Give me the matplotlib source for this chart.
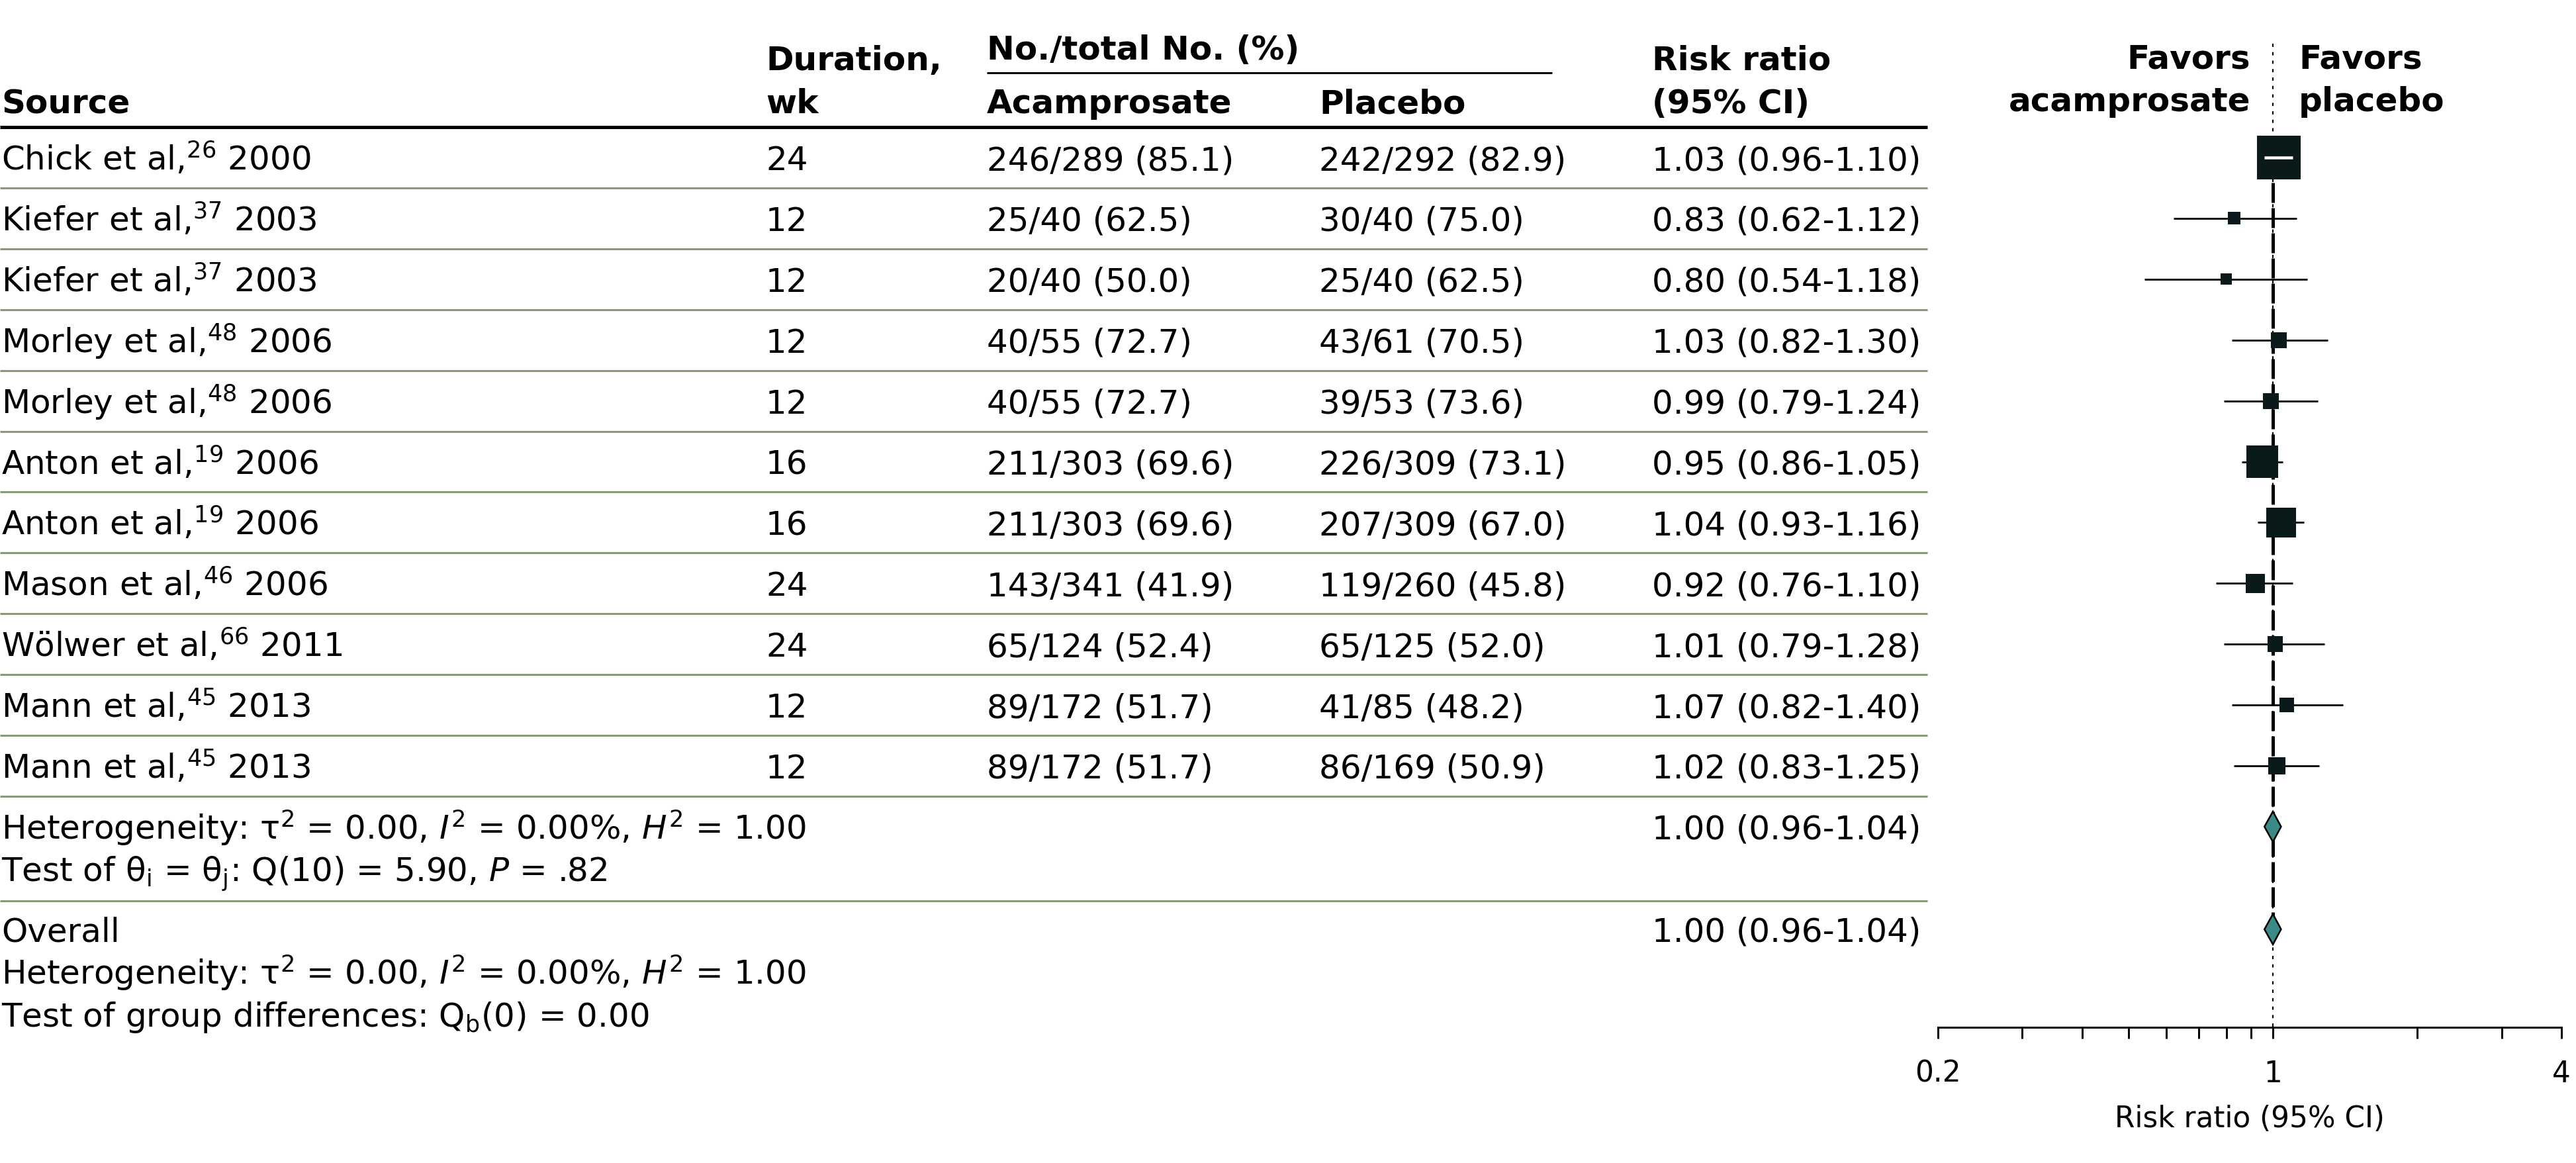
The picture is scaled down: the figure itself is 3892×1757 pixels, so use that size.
import numpy as np
import matplotlib
matplotlib.use("Agg")
import matplotlib.pyplot as plt
from matplotlib.ticker import FixedLocator, FixedFormatter, NullFormatter

# ---------------- data ----------------
authors = ["Chick", "Kiefer", "Kiefer", "Morley", "Morley", "Anton", "Anton",
           "Mason", "Wölwer", "Mann", "Mann"]
refs = [26, 37, 37, 48, 48, 19, 19, 46, 66, 45, 45]
years = [2000, 2003, 2003, 2006, 2006, 2006, 2006, 2006, 2011, 2013, 2013]
duration_wk = [24, 12, 12, 12, 12, 16, 16, 24, 24, 12, 12]
acamp_events = [246, 25, 20, 40, 40, 211, 211, 143, 65, 89, 89]
acamp_total = [289, 40, 40, 55, 55, 303, 303, 341, 124, 172, 172]
placebo_events = [242, 30, 25, 43, 39, 226, 207, 119, 65, 41, 86]
placebo_total = [292, 40, 40, 61, 53, 309, 309, 260, 125, 85, 169]
rr = [1.03, 0.83, 0.80, 1.03, 0.99, 0.95, 1.04, 0.92, 1.01, 1.07, 1.02]
rr_lo = [0.96, 0.62, 0.54, 0.82, 0.79, 0.86, 0.93, 0.76, 0.79, 0.82, 0.83]
rr_hi = [1.10, 1.12, 1.18, 1.30, 1.24, 1.05, 1.16, 1.10, 1.28, 1.40, 1.25]
weights = [33.4, 2.8, 2.2, 4.4, 4.4, 17.7, 15.5, 6.4, 4.2, 3.7, 5.2]  # % (from box areas)

subgroup_rr, subgroup_lo, subgroup_hi = 1.00, 0.96, 1.04
overall_rr, overall_lo, overall_hi = 1.00, 0.96, 1.04

het_text = r"Heterogeneity: τ$^{2}$ = 0.00, $I^{2}$ = 0.00%, $H^{2}$ = 1.00"
test_text = r"Test of θ$_{\mathrm{i}}$ = θ$_{\mathrm{j}}$: Q(10) = 5.90, $P$ = .82"
group_text = r"Test of group differences: Q$_{\mathrm{b}}$(0) = 0.00"

xticks_major = [0.2, 1, 4]
xtick_labels = ["0.2", "1", "4"]
xticks_minor = [0.3, 0.4, 0.5, 0.6, 0.7, 0.8, 0.9, 2, 3]

# ---------------- style / layout ----------------
plt.rcParams["font.family"] = ["DejaVu Sans"]
plt.rcParams["mathtext.fontset"] = "dejavusans"

W, H, DPI = 3892, 1758, 100
PX = 72.0 / DPI  # points per pixel
FS = 36
FS_AX = 31.5
BOX_C = "#0a1a1a"
DIA_C = "#3a8a88"
SEP_C = "#8a9a78"

x_src, x_dur, x_acam, x_plac, x_rr = 2, 1157, 1491, 1993, 2496
table_right = 2912
y_first, pitch, base_off = 239, 91.9, 18
fx0, fx1, fy_axis = 2928, 3870, 1553

n = len(authors)
row_y = y_first + pitch * np.arange(n)
sub_y = y_first + pitch * n          # subgroup diamond centre
line_gap = 64
sep_het = sub_y + 112
ov_y = sub_y + 155

fig = plt.figure(figsize=(W / DPI, H / DPI), dpi=DPI)
tab = fig.add_axes([0, 0, 1, 1])
tab.set_xlim(0, W)
tab.set_ylim(H, 0)
tab.axis("off")

# header
hkw = dict(fontsize=FS, fontweight="bold", va="baseline")
tab.text(x_src, 171, "Source", **hkw)
tab.text(x_dur, 106, "Duration,", **hkw)
tab.text(x_dur, 171, "wk", **hkw)
tab.text(x_acam, 90, "No./total No. (%)", **hkw)
tab.plot([x_acam, 2345], [111, 111], color="black", lw=3 * PX * 1.0 / PX * PX * 1.0, solid_capstyle="butt")
tab.text(x_acam, 171, "Acamprosate", **hkw)
tab.text(x_plac, 171, "Placebo", **hkw)
tab.text(x_rr, 106, "Risk ratio", **hkw)
tab.text(x_rr, 171, "(95% CI)", **hkw)
tab.text(3400, 103, "Favors", ha="right", **hkw)
tab.text(3400, 168, "acamprosate", ha="right", **hkw)
tab.text(3473, 103, "Favors", ha="left", **hkw)
tab.text(3473, 168, "placebo", ha="left", **hkw)

tab.plot([0, table_right], [193, 193], color="black", lw=5 * PX, solid_capstyle="butt")

# rows
rkw = dict(fontsize=FS, va="baseline")
for i in range(n):
    yb = row_y[i] + base_off
    tab.text(x_src, yb, f"{authors[i]} et al,$^{{{refs[i]}}}$ {years[i]}", **rkw)
    tab.text(x_dur, yb, f"{duration_wk[i]}", **rkw)
    tab.text(x_acam, yb, f"{acamp_events[i]}/{acamp_total[i]} "
             f"({100 * acamp_events[i] / acamp_total[i]:.1f})", **rkw)
    tab.text(x_plac, yb, f"{placebo_events[i]}/{placebo_total[i]} "
             f"({100 * placebo_events[i] / placebo_total[i]:.1f})", **rkw)
    tab.text(x_rr, yb, f"{rr[i]:.2f} ({rr_lo[i]:.2f}-{rr_hi[i]:.2f})", **rkw)
    tab.plot([0, table_right], [row_y[i] + pitch / 2] * 2, color=SEP_C,
             lw=3 * PX, solid_capstyle="butt")

# subgroup / overall text
tab.text(x_src, sub_y + base_off, het_text, **rkw)
tab.text(x_src, sub_y + base_off + line_gap, test_text, **rkw)
tab.text(x_rr, sub_y + base_off,
         f"{subgroup_rr:.2f} ({subgroup_lo:.2f}-{subgroup_hi:.2f})", **rkw)
tab.plot([0, table_right], [sep_het] * 2, color=SEP_C, lw=3 * PX, solid_capstyle="butt")
tab.text(x_src, ov_y + base_off, "Overall", **rkw)
tab.text(x_src, ov_y + base_off + line_gap, het_text, **rkw)
tab.text(x_src, ov_y + base_off + 2 * line_gap, group_text, **rkw)
tab.text(x_rr, ov_y + base_off,
         f"{overall_rr:.2f} ({overall_lo:.2f}-{overall_hi:.2f})", **rkw)

# ---------------- forest axes ----------------
fa = fig.add_axes([fx0 / W, (H - fy_axis) / H, (fx1 - fx0) / W, fy_axis / H])
fa.set_xscale("log")
fa.set_xlim(0.2, 4)
fa.set_ylim(fy_axis, 0)
fa.patch.set_visible(False)
for s in ("left", "right", "top"):
    fa.spines[s].set_visible(False)
fa.spines["bottom"].set_linewidth(3 * PX)
fa.set_yticks([])
fa.xaxis.set_major_locator(FixedLocator(xticks_major))
fa.xaxis.set_major_formatter(FixedFormatter(xtick_labels))
fa.xaxis.set_minor_locator(FixedLocator(xticks_minor))
fa.xaxis.set_minor_formatter(NullFormatter())
fa.tick_params(axis="x", which="both", direction="out", length=17 * PX,
               width=3 * PX, pad=22, labelsize=FS_AX)
fa.set_xlabel("Risk ratio (95% CI)", fontsize=FS_AX, labelpad=18)
for t in fa.xaxis.get_major_ticks():
    if abs(t.get_loc() - 1) < 1e-9:
        t.tick1line.set_markersize(29 * PX)

# null line (dotted) and overall line (dashed)
fa.plot([1, 1], [67, fy_axis], color="black", lw=2.2 * PX,
        ls=(0, (2.2, 3.6)), zorder=1, clip_on=False)
fa.plot([overall_rr, overall_rr], [row_y[0], ov_y], color="black", lw=5 * PX,
        ls=(0, (6, 1.6)), zorder=1.5)

# CIs and boxes
fa.hlines(row_y, rr_lo, rr_hi, color="black", lw=2.8 * PX, zorder=2)
side_px = 11.42 * np.sqrt(np.array(weights))
fa.scatter(rr, row_y, s=(side_px * PX) ** 2, marker="s", color=BOX_C,
           edgecolors="none", zorder=3)

# white CI where it lies entirely inside the box
cx = fa.transData.transform(np.c_[rr, row_y])[:, 0]
lx = fa.transData.transform(np.c_[rr_lo, row_y])[:, 0]
hx = fa.transData.transform(np.c_[rr_hi, row_y])[:, 0]
for i in range(n):
    if lx[i] >= cx[i] - side_px[i] / 2 and hx[i] <= cx[i] + side_px[i] / 2:
        fa.hlines(row_y[i], rr_lo[i], rr_hi[i], color="white", lw=4.5 * PX, zorder=4)

# diamonds
dh = 23
for est, lo, hi, yc in [(subgroup_rr, subgroup_lo, subgroup_hi, sub_y),
                        (overall_rr, overall_lo, overall_hi, ov_y)]:
    fa.fill([lo, est, hi, est], [yc, yc - dh, yc, yc + dh], facecolor=DIA_C,
            edgecolor="black", lw=2.5 * PX, zorder=5)

fig.savefig("out.png", dpi=DPI)
